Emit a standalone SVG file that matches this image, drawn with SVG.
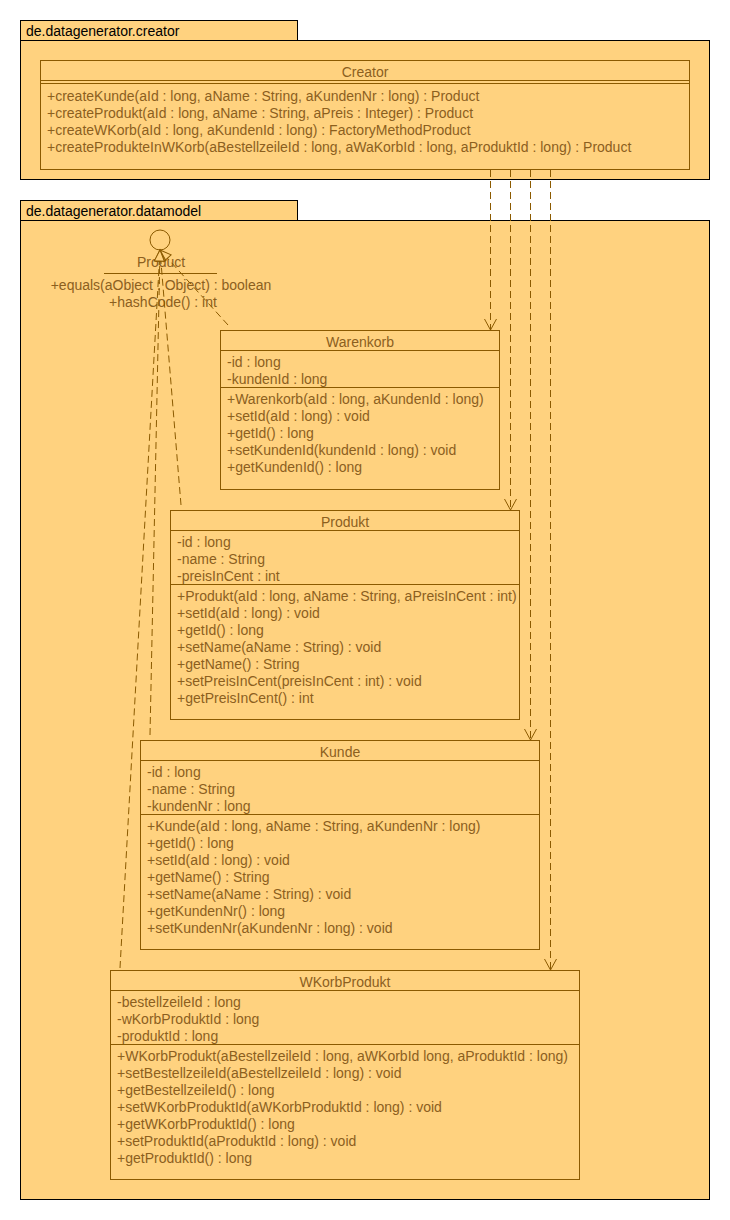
<svg xmlns="http://www.w3.org/2000/svg" width="730" height="1220" viewBox="0 0 730 1220">
<defs>
<style>
.pkg{fill:#FFD27F;stroke:#000;stroke-width:1}
.cls{fill:#FFD27F;stroke:#8B5A00;stroke-width:1}
.sep{stroke:#8B5A00;stroke-width:1}
text{font-family:"Liberation Sans",Arial,sans-serif;font-size:14px;fill:#8C5F1E}
.pl{fill:#000}
.t{text-anchor:middle}
.dash{fill:none;stroke:#8B5A00;stroke-width:1;stroke-dasharray:7,4}
</style>
<marker id="open" markerWidth="14" markerHeight="14" refX="11" refY="6" orient="auto" markerUnits="userSpaceOnUse" viewBox="0 0 14 12">
<path d="M0,0 L11,6 L0,12" fill="none" stroke="#8B5A00" stroke-width="1"/>
</marker>
<marker id="real" markerWidth="14" markerHeight="14" refX="12" refY="6" orient="auto" markerUnits="userSpaceOnUse" viewBox="0 0 14 12">
<path d="M1,1 L12,6 L1,11 Z" fill="#FFD27F" stroke="#8B5A00" stroke-width="1"/>
</marker>
</defs>
<rect width="730" height="1220" fill="#fff"/>

<g id="pkg-creator">
<rect class="pkg" x="20.5" y="20.5" width="277" height="20"/>
<rect class="pkg" x="20.5" y="40.5" width="689" height="139"/>
<text class="pl" x="26" y="36">de.datagenerator.creator</text>
</g>

<g id="pkg-datamodel">
<rect class="pkg" x="20.5" y="200.5" width="277" height="20"/>
<rect class="pkg" x="20.5" y="220.5" width="689" height="979"/>
<text class="pl" x="26" y="216">de.datagenerator.datamodel</text>
</g>

<g id="Creator">
<rect class="cls" x="40.5" y="60.5" width="649" height="109"/>
<text class="t" x="365" y="77">Creator</text>
<line class="sep" x1="40.5" y1="80.5" x2="689.5" y2="80.5"/>
<line class="sep" x1="40.5" y1="83.5" x2="689.5" y2="83.5"/>
<text x="47" y="101">+createKunde(aId : long, aName : String, aKundenNr : long) : Product</text>
<text x="47" y="118">+createProdukt(aId : long, aName : String, aPreis : Integer) : Product</text>
<text x="47" y="135">+createWKorb(aId : long, aKundenId : long) : FactoryMethodProduct</text>
<text x="47" y="152">+createProdukteInWKorb(aBestellzeileId : long, aWaKorbId : long, aProduktId : long) : Product</text>
</g>

<g id="Product">
<circle cx="160" cy="240" r="10" fill="none" stroke="#8B5A00" stroke-width="1"/>
<text class="t" x="161" y="267">Product</text>
<line class="sep" x1="104" y1="273.5" x2="217" y2="273.5"/>
<text class="t" x="161" y="290">+equals(aObject : Object) : boolean</text>
<text class="t" x="163" y="307">+hashCode() : int</text>
</g>

<g id="connectors">
<line class="dash" x1="490.5" y1="170" x2="490.5" y2="330" marker-end="url(#open)"/>
<line class="dash" x1="510.5" y1="170" x2="510.5" y2="510" marker-end="url(#open)"/>
<line class="dash" x1="530.5" y1="170" x2="530.5" y2="740" marker-end="url(#open)"/>
<line class="dash" x1="550.5" y1="170" x2="550.5" y2="970" marker-end="url(#open)"/>
<line class="dash" x1="228" y1="325" x2="160" y2="250" marker-end="url(#real)"/>
<line class="dash" x1="181" y1="505" x2="160" y2="250" marker-end="url(#real)"/>
<line class="dash" x1="150" y1="735" x2="160" y2="250" marker-end="url(#real)"/>
<line class="dash" x1="120" y1="968" x2="160" y2="250" marker-end="url(#real)"/>
</g>

<g id="Warenkorb">
<rect class="cls" x="220.5" y="330.5" width="279" height="159"/>
<text class="t" x="360" y="347">Warenkorb</text>
<line class="sep" x1="220.5" y1="350.5" x2="499.5" y2="350.5"/>
<text x="227" y="367">-id : long</text>
<text x="227" y="384">-kundenId : long</text>
<line class="sep" x1="220.5" y1="387.5" x2="499.5" y2="387.5"/>
<text x="227" y="404">+Warenkorb(aId : long, aKundenId : long)</text>
<text x="227" y="421">+setId(aId : long) : void</text>
<text x="227" y="438">+getId() : long</text>
<text x="227" y="455">+setKundenId(kundenId : long) : void</text>
<text x="227" y="472">+getKundenId() : long</text>
</g>

<g id="Produkt">
<rect class="cls" x="170.5" y="510.5" width="349" height="209"/>
<text class="t" x="345" y="527">Produkt</text>
<line class="sep" x1="170.5" y1="530.5" x2="519.5" y2="530.5"/>
<text x="177" y="547">-id : long</text>
<text x="177" y="564">-name : String</text>
<text x="177" y="581">-preisInCent : int</text>
<line class="sep" x1="170.5" y1="584.5" x2="519.5" y2="584.5"/>
<text x="177" y="601">+Produkt(aId : long, aName : String, aPreisInCent : int)</text>
<text x="177" y="618">+setId(aId : long) : void</text>
<text x="177" y="635">+getId() : long</text>
<text x="177" y="652">+setName(aName : String) : void</text>
<text x="177" y="669">+getName() : String</text>
<text x="177" y="686">+setPreisInCent(preisInCent : int) : void</text>
<text x="177" y="703">+getPreisInCent() : int</text>
</g>

<g id="Kunde">
<rect class="cls" x="140.5" y="740.5" width="399" height="209"/>
<text class="t" x="340" y="757">Kunde</text>
<line class="sep" x1="140.5" y1="760.5" x2="539.5" y2="760.5"/>
<text x="147" y="777">-id : long</text>
<text x="147" y="794">-name : String</text>
<text x="147" y="811">-kundenNr : long</text>
<line class="sep" x1="140.5" y1="814.5" x2="539.5" y2="814.5"/>
<text x="147" y="831">+Kunde(aId : long, aName : String, aKundenNr : long)</text>
<text x="147" y="848">+getId() : long</text>
<text x="147" y="865">+setId(aId : long) : void</text>
<text x="147" y="882">+getName() : String</text>
<text x="147" y="899">+setName(aName : String) : void</text>
<text x="147" y="916">+getKundenNr() : long</text>
<text x="147" y="933">+setKundenNr(aKundenNr : long) : void</text>
</g>

<g id="WKorbProdukt">
<rect class="cls" x="110.5" y="970.5" width="469" height="209"/>
<text class="t" x="345" y="987">WKorbProdukt</text>
<line class="sep" x1="110.5" y1="990.5" x2="579.5" y2="990.5"/>
<text x="117" y="1007">-bestellzeileId : long</text>
<text x="117" y="1024">-wKorbProduktId : long</text>
<text x="117" y="1041">-produktId : long</text>
<line class="sep" x1="110.5" y1="1044.5" x2="579.5" y2="1044.5"/>
<text x="117" y="1061">+WKorbProdukt(aBestellzeileId : long, aWKorbId long, aProduktId : long)</text>
<text x="117" y="1078">+setBestellzeileId(aBestellzeileId : long) : void</text>
<text x="117" y="1095">+getBestellzeileId() : long</text>
<text x="117" y="1112">+setWKorbProduktId(aWKorbProduktId : long) : void</text>
<text x="117" y="1129">+getWKorbProduktId() : long</text>
<text x="117" y="1146">+setProduktId(aProduktId : long) : void</text>
<text x="117" y="1163">+getProduktId() : long</text>
</g>
</svg>
